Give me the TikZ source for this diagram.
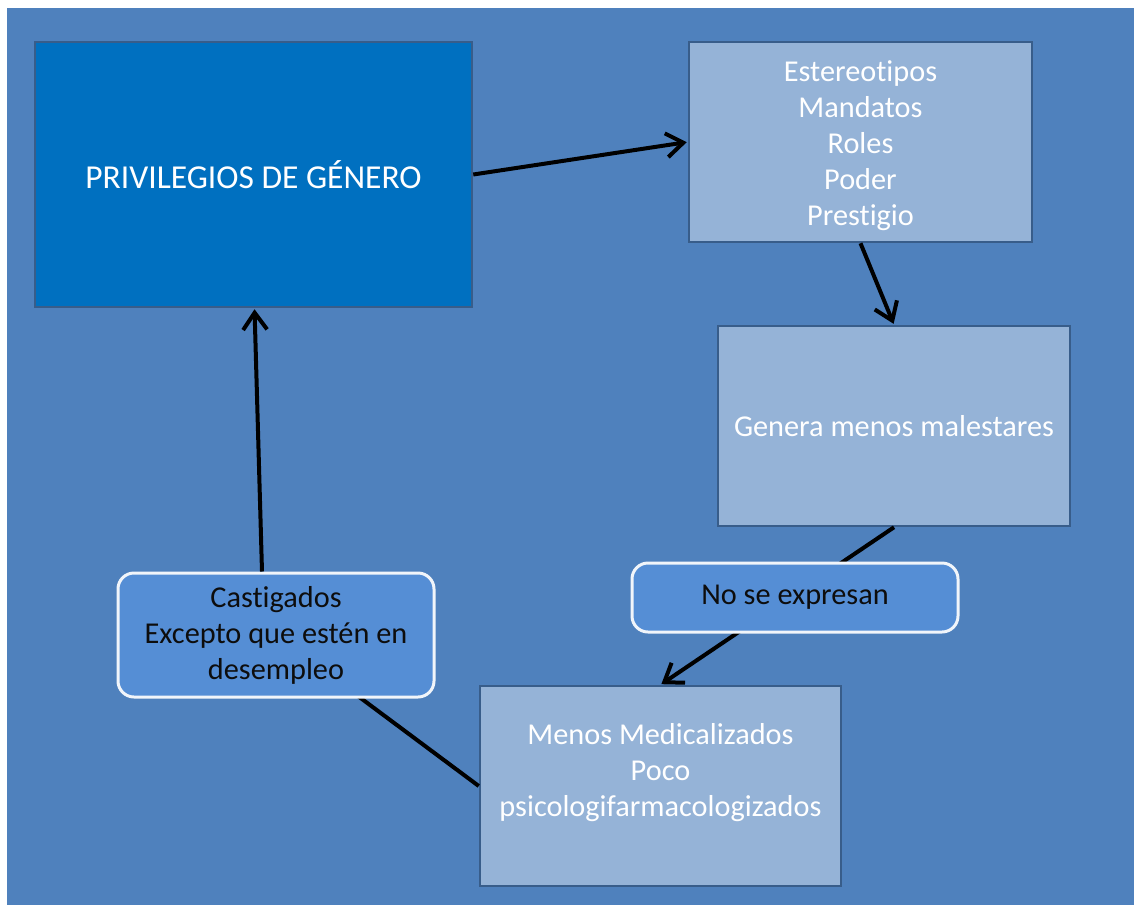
\documentclass[tikz,border=0pt]{standalone}
\usepackage{fontspec}
\setmainfont{Carlito}[Ligatures=NoCommon]
\usetikzlibrary{arrows.meta,calc}
\definecolor{bgblue}{HTML}{4F81BD}
\definecolor{mainblue}{HTML}{0070C0}
\definecolor{lightblue}{HTML}{95B3D7}
\definecolor{midblue}{HTML}{558ED5}
\definecolor{edgeblue}{HTML}{385D8A}
\definecolor{darktext}{HTML}{0D0D0D}
\tikzset{
  txt/.style={font=\fontsize{30.3}{36}\selectfont, align=center},
  solidbox/.style={draw=edgeblue, line width=2.5pt, fill=lightblue, text=white, txt, inner sep=0pt},
  mainbox/.style={solidbox, fill=mainblue, font=\fontsize{33.5}{38}\selectfont},
  roundbox/.style={draw=white!92!bgblue, line width=3pt, fill=midblue, text=darktext, txt,
    rounded corners=16pt, inner sep=0pt},
  conn/.style={line width=4pt, black},
  arr/.style={conn, -{Straight Barb[length=17pt,width=24pt,line width=4pt]}, shorten >=1pt}
}
\begin{document}
\begin{tikzpicture}[x=1pt,y=-1pt]
\path[use as bounding box] (0,0) rectangle (1134,905);
\fill[bgblue] (7,8) rectangle (1134,905);
\node[mainbox, minimum width=437pt, minimum height=265pt] (priv) at (253.5,174.5) {PRIVILEGIOS DE GÉNERO};
\node[solidbox, minimum width=343pt, minimum height=200pt,
  label={[txt, text=white, yshift=-3.5pt]center:Estereotipos\\Mandatos\\Roles\\Poder\\Prestigio}] (este) at (860.5,142) {};
\node[solidbox, minimum width=352pt, minimum height=200pt] (gen) at (894,426) {Genera menos malestares};
\node[solidbox, minimum width=361pt, minimum height=200pt,
  label={[txt, text=white, yshift=13pt]center:Menos Medicalizados\\Poco\\psicologifarmacologizados}] (menos) at (660.5,786) {};
\draw[arr] (gen.south) -- (menos.north);
\draw[conn] (menos.west) -- (276,635);
\node[roundbox, minimum width=326pt, minimum height=69pt] (nose) at (795,597.5) {No se expresan};
\node[roundbox, minimum width=316pt, minimum height=124pt] (cast) at (276,635) {Castigados\\Excepto que estén en\\desempleo};
\draw[arr] (priv.east) -- (este.west);
\draw[arr] (este.south) -- (gen.north);
\draw[arr] ($(cast.north)+(-14,0)$) -- ($(priv.south)+(1,0)$);
\end{tikzpicture}
\end{document}
